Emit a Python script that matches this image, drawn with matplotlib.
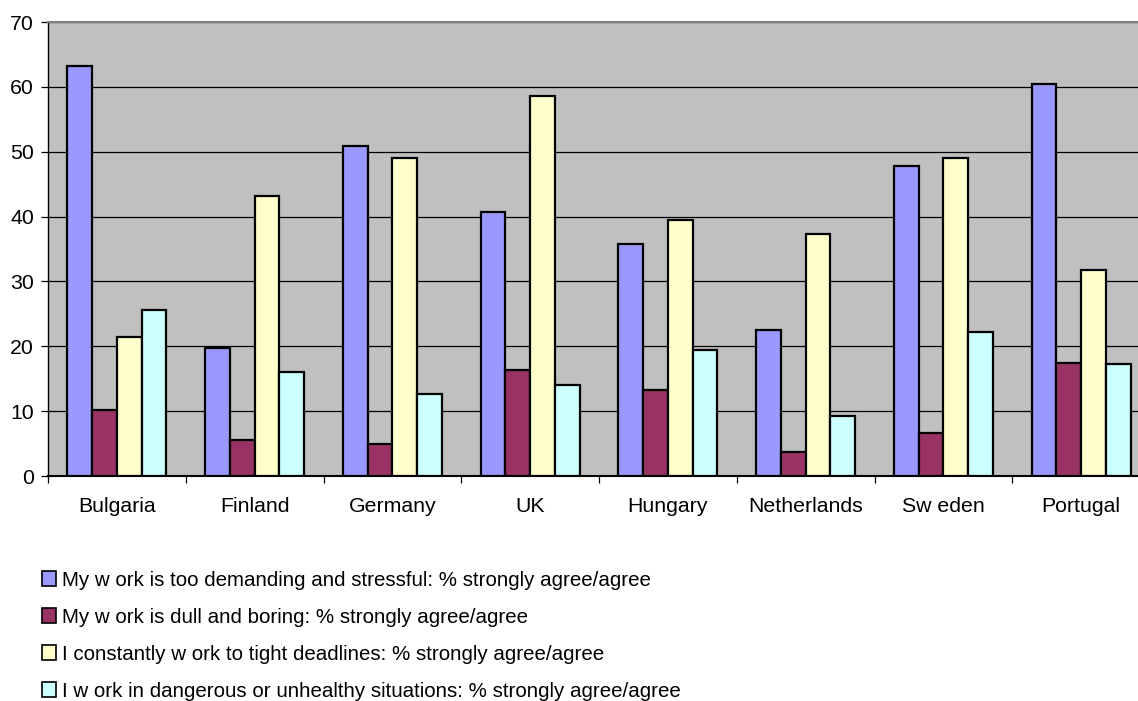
#!/usr/bin/env python3

"""
plot.py - work conditions by country, grouped bars
"""

import numpy as np
import matplotlib
matplotlib.use("Agg")
import matplotlib.pyplot as plt
from matplotlib.patches import Patch

countries = ["Bulgaria", "Finland", "Germany", "UK", "Hungary", "Netherlands", "Sw eden", "Portugal"]

seriesNames = [
    "My w ork is too demanding and stressful: % strongly agree/agree",
    "My w ork is dull and boring: % strongly agree/agree",
    "I constantly w ork to tight deadlines: % strongly agree/agree",
    "I w ork in dangerous or unhealthy situations: % strongly agree/agree",
]

demanding = [63.2, 19.7, 50.9, 40.7, 35.8, 22.5, 47.8, 60.4]
dull = [10.2, 5.5, 4.9, 16.3, 13.3, 3.7, 6.7, 17.5]
deadlines = [21.5, 43.2, 49.0, 58.6, 39.5, 37.3, 49.0, 31.8]
dangerous = [25.6, 16.0, 12.6, 14.1, 19.4, 9.3, 22.2, 17.2]

colours = ["#9999FF", "#993366", "#FFFFCC", "#CCFFFF"]

def main():
    plt.rcParams["font.family"] = ["Liberation Sans", "DejaVu Sans"]
    fig = plt.figure(figsize=(11.38, 7.01), dpi=100)
    ax = fig.add_axes([48 / 1138, 1 - 476 / 701, 1102 / 1138, 454 / 701])
    ax.set_facecolor("#C0C0C0")

    x = np.arange(len(countries))
    barW = 0.18
    allSeries = [demanding, dull, deadlines, dangerous]
    for i, vals in enumerate(allSeries):
        ax.bar(x + (i - 1.5) * barW, vals, barW, color=colours[i],
               edgecolor="black", linewidth=1.6, zorder=3)

    ax.set_xlim(-0.5, len(countries) - 0.5)
    ax.set_ylim(0, 70)
    ax.set_yticks(range(0, 71, 10))
    ax.yaxis.grid(True, color="black", linewidth=0.9, zorder=1)
    ax.set_axisbelow(True)

    # ticks sit between the groups, labels sit in the middle
    ax.set_xticks(np.arange(-0.5, len(countries) + 0.5, 1))
    ax.set_xticklabels([])
    ax.set_xticks(x, minor=True)
    ax.set_xticklabels(countries, minor=True, fontsize=15.3)
    ax.tick_params(axis="x", which="minor", length=0, pad=15)
    ax.tick_params(axis="x", which="major", length=5, width=0.9, direction="out")
    ax.tick_params(axis="y", length=5, width=0.9, labelsize=15.3, pad=5)

    ax.spines["top"].set_color("#808080")
    ax.spines["top"].set_linewidth(1.5)
    ax.spines["right"].set_visible(False)
    ax.spines["left"].set_linewidth(1.0)
    ax.spines["bottom"].set_linewidth(1.5)

    handles = [Patch(facecolor=c, edgecolor="black", linewidth=1.2) for c in colours]
    fig.legend(handles, seriesNames, loc="upper left",
               bbox_to_anchor=(23 / 1138, 1 - 552 / 701), frameon=False,
               handlelength=0.72, handleheight=0.72,
               handletextpad=0.3, labelspacing=0.88,
               prop={"family": ["Liberation Sans", "DejaVu Sans"], "size": 14.8})

    fig.savefig("out.png", dpi=100)

if __name__ == "__main__":
    main()
